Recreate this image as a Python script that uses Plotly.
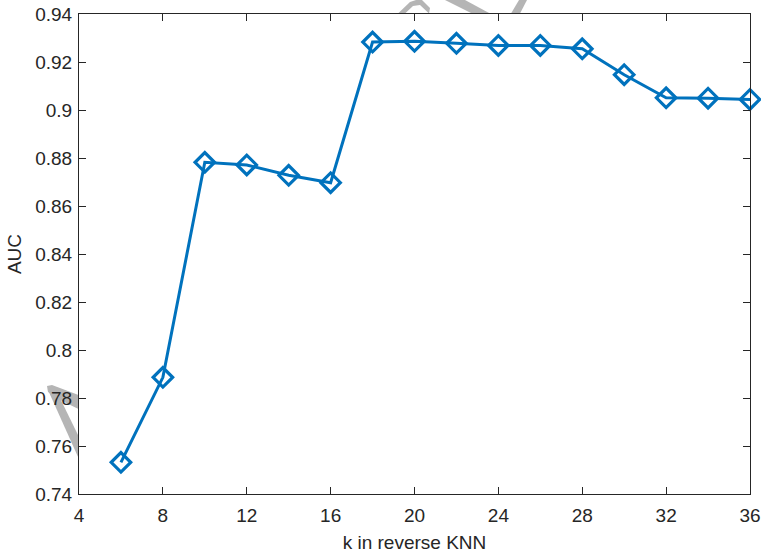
import plotly.graph_objects as go

k_values = [6, 8, 10, 12, 14, 16, 18, 20, 22, 24, 26, 28, 30, 32, 34, 36]
auc_values = [0.7532, 0.7886, 0.8782, 0.8771, 0.8728, 0.8697, 0.9283, 0.9286,
              0.9278, 0.9269, 0.9269, 0.9255, 0.9147, 0.9051, 0.9049, 0.9044]
x_ticks = [4, 8, 12, 16, 20, 24, 28, 32, 36]
y_ticks = [0.74, 0.76, 0.78, 0.80, 0.82, 0.84, 0.86, 0.88, 0.90, 0.92, 0.94]
y_tick_labels = ["0.74", "0.76", "0.78", "0.8", "0.82", "0.84", "0.86", "0.88", "0.9", "0.92", "0.94"]

W, H = 761, 553
L, R, T, B = 79, 11, 14, 59
PW, PH = W - L - R, H - T - B

fig = go.Figure()
fig.add_trace(go.Scatter(
    x=k_values, y=auc_values, mode="lines+markers",
    line=dict(color="#0072BD", width=3),
    marker=dict(symbol="diamond-open", size=15, color="#0072BD",
                line=dict(color="#0072BD", width=3.2)),
    cliponaxis=False, showlegend=False,
))

def px(x, y):
    return (x - L) / PW, (H - B - y) / PH

def path(points):
    s = ""
    for i, (x, y) in enumerate(points):
        xx, yy = px(x, y)
        s += ("M" if i == 0 else "L") + f"{xx:.5f},{yy:.5f} "
    return s + "Z"

gray = "#b5b5b5"
wm = [
    [(398, 13.5), (410, 2), (416, 0), (422, 0), (430, 8), (429, 13.5), (420, 5), (413, 6), (405, 13.5)],
    [(445, 0), (465, 0), (490, 13.5), (472, 13.5)],
    [(519, 0), (527, 0), (520, 13.5), (511, 13.5)],
    [(47, 386), (52, 385), (78.5, 395), (78.5, 409), (60, 400), (48, 392)],
    [(48, 390), (56, 390), (78.5, 436), (78.5, 458)],
]
shapes = []
for p in wm:
    shapes.append(dict(type="path", xref="paper", yref="paper", path=path(p),
                       fillcolor=gray, line=dict(width=0), layer="below"))

font = dict(family="Liberation Sans, Arial, sans-serif", size=19, color="#262626")
axis_common = dict(
    showline=True, linecolor="#262626", linewidth=1, mirror="ticks",
    ticks="inside", ticklen=7, tickwidth=1, tickcolor="#262626",
    showgrid=False, zeroline=False, automargin=False,
    tickfont=font, title_font=font,
)

fig.update_layout(
    template="none",
    width=W, height=H,
    margin=dict(l=L, r=R, t=T, b=B),
    paper_bgcolor="white", plot_bgcolor="white",
    shapes=shapes,
    xaxis=dict(range=[4, 36], tickvals=x_ticks, ticktext=[str(v) for v in x_ticks],
               ticklabelstandoff=4,
               title=dict(text="k in reverse KNN", standoff=12), **axis_common),
    yaxis=dict(range=[0.74, 0.94], tickvals=y_ticks, ticktext=y_tick_labels,
               ticklabelstandoff=2,
               title=dict(text="AUC", standoff=8), **axis_common),
)

fig.write_html("out.html")
